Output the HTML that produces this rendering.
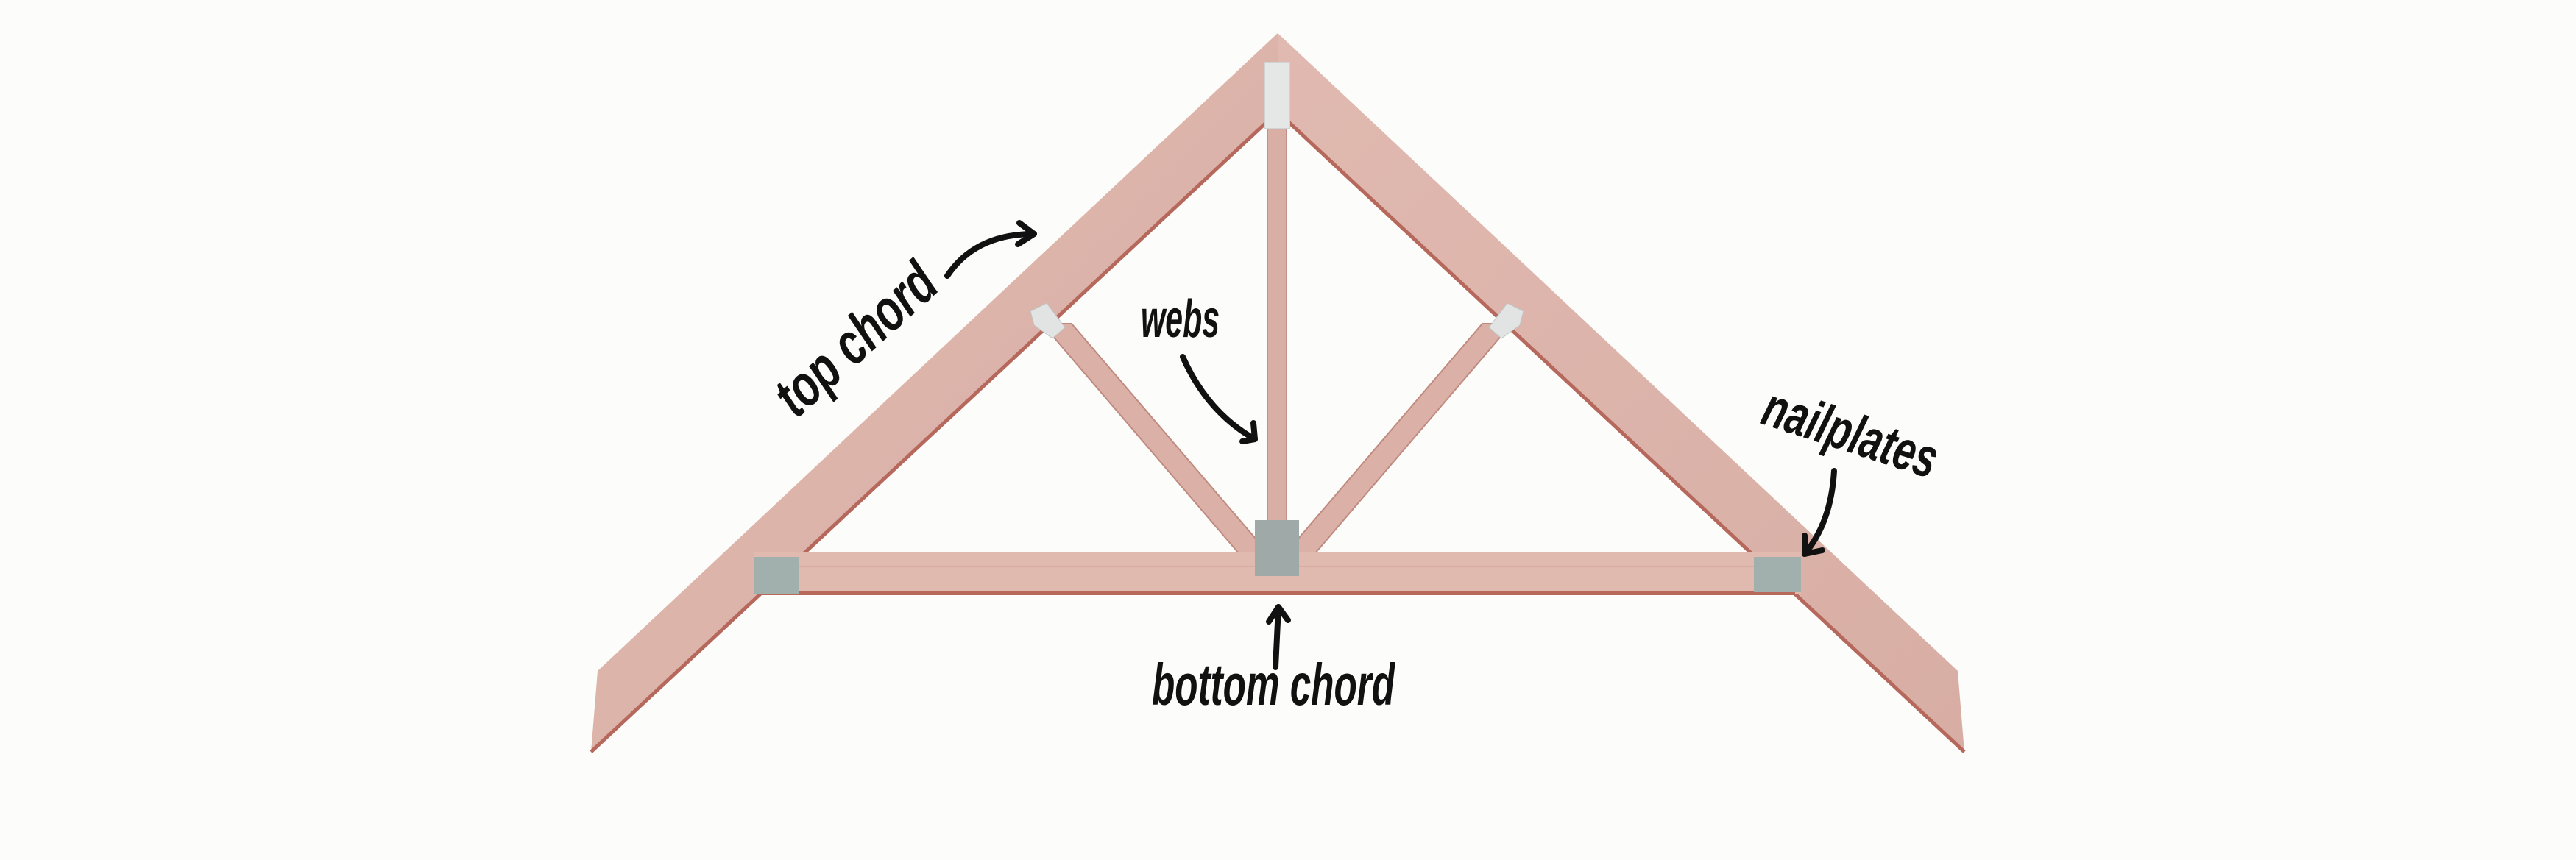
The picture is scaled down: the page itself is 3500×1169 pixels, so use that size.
<!DOCTYPE html>
<html><head><meta charset="utf-8"><style>
html,body{margin:0;padding:0;background:#fcfcfa;}
svg{display:block}
.l{font-family:"Liberation Sans Narrow","Liberation Sans",sans-serif;font-style:italic;font-weight:bold;fill:#111;}
</style></head><body>
<svg width="3500" height="1169" viewBox="0 0 3500 1169" xmlns="http://www.w3.org/2000/svg">
<rect width="3500" height="1169" fill="#fcfcfa"/>
<defs>
<linearGradient id="w" x1="0" y1="0" x2="1" y2="1">
<stop offset="0" stop-color="#e0b9b0"/><stop offset="1" stop-color="#d8aea4"/>
</linearGradient>
</defs>
<!-- vertical web -->
<rect x="1722" y="140" width="26" height="615" fill="#d9aea5" stroke="#c3918a" stroke-width="2"/>
<!-- diagonals -->
<polygon points="1416,440 1456,440 1723,752 1683,752" fill="#dbb1a7" stroke="#c08a80" stroke-width="2"/>
<polygon points="2054,440 2014,440 1747,752 1787,752" fill="#dbb1a7" stroke="#c08a80" stroke-width="2"/>
<!-- left rafter -->
<polygon points="1736,45 812,912 803,1022 1736,152" fill="url(#w)"/>
<line x1="803" y1="1022" x2="1736" y2="152" stroke="#b6685c" stroke-width="5"/>
<!-- right rafter -->
<polygon points="1736,45 2660,912 2669,1022 1736,152" fill="url(#w)"/>
<line x1="2669" y1="1022" x2="1736" y2="152" stroke="#b6685c" stroke-width="5"/>
<!-- bottom chord -->
<rect x="1025" y="750" width="1422" height="58" fill="#e0b9af"/>
<rect x="1033" y="804" width="1406" height="5" fill="#b8695b"/>
<line x1="1060" y1="770" x2="2420" y2="770" stroke="#cfa098" stroke-width="1"/>
<!-- plates -->
<rect x="1718" y="85" width="34" height="90" fill="#e4e7e6" stroke="#cfd3d2" stroke-width="2"/>
<rect x="1705" y="707" width="60" height="76" fill="#9fa9a7"/>
<rect x="1025" y="757" width="60" height="50" fill="#a2b0ad"/>
<rect x="2383" y="757" width="64" height="48" fill="#a2b0ad"/>
<polygon points="1400,423 1422,412 1447,445 1430,460 1405,442" fill="#e1e4e3" stroke="#bfc4c3" stroke-width="1"/>
<polygon points="2070,423 2048,412 2023,445 2040,460 2065,442" fill="#e1e4e3" stroke="#bfc4c3" stroke-width="1"/>
<!-- arrows -->
<g fill="none" stroke="#111" stroke-width="8" stroke-linecap="round" stroke-linejoin="round">
<path d="M1287,375 Q1325,318 1405,318"/>
<path d="M1385,303 L1405,318 L1383,332"/>
<path d="M1607,485 Q1640,560 1705,597"/>
<path d="M1703,575 L1705,597 L1688,600"/>
<path d="M1733,907 L1737,825"/>
<path d="M1724,845 L1737,825 L1750,843"/>
<path d="M2492,640 Q2488,710 2452,753"/>
<path d="M2452,728 L2452,753 L2476,748"/>
</g>
<!-- labels -->
<text class="l" x="0" y="0" font-size="80" textLength="265" lengthAdjust="spacingAndGlyphs" transform="translate(1082,570) rotate(-42)">top chord</text>
<text class="l" x="1550" y="458" font-size="72" textLength="107" lengthAdjust="spacingAndGlyphs">webs</text>
<text class="l" x="1565" y="958" font-size="80" textLength="330" lengthAdjust="spacingAndGlyphs">bottom chord</text>
<text class="l" x="0" y="0" font-size="76" textLength="245" lengthAdjust="spacingAndGlyphs" transform="translate(2390,575) rotate(18)">nailplates</text>
</svg>
</body></html>
